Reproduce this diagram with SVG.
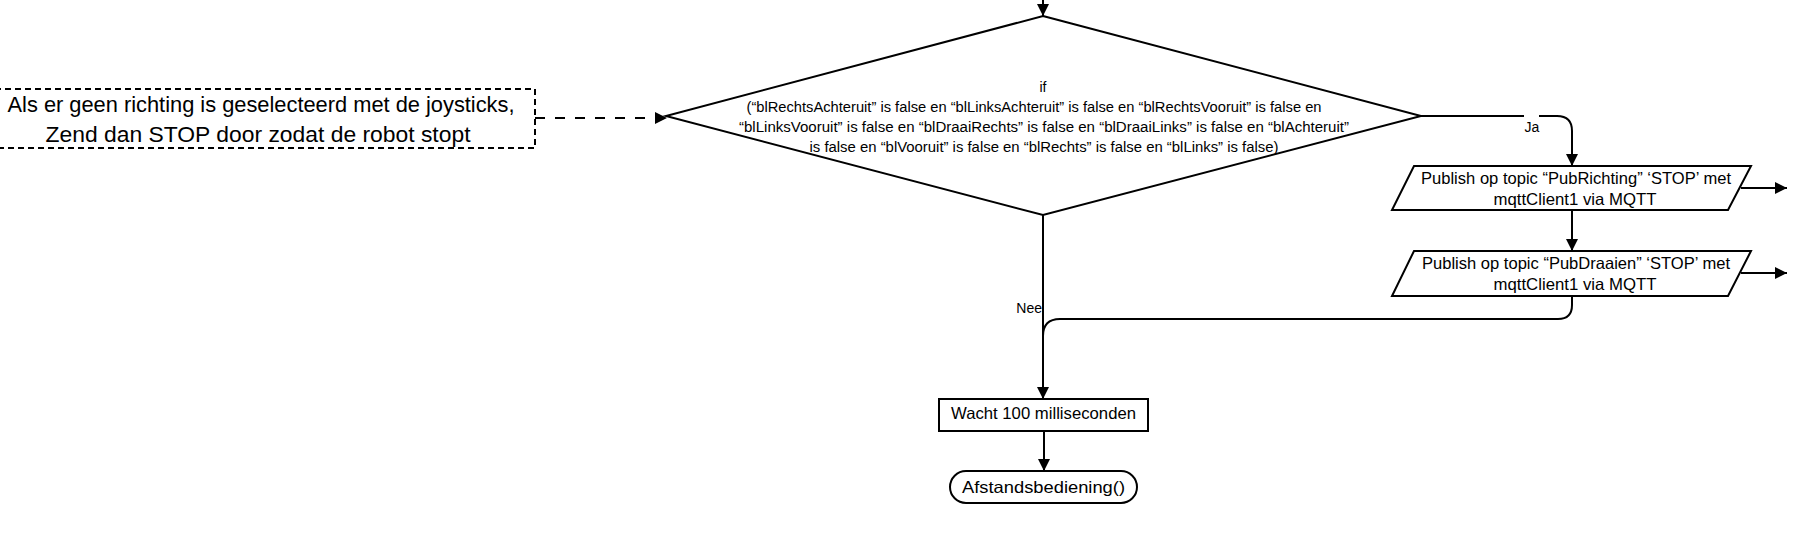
<svg xmlns="http://www.w3.org/2000/svg" width="1797" height="557" viewBox="0 0 1797 557">
<style>
  .shape { fill: #ffffff; stroke: #000000; stroke-width: 2; }
  .dashbox { fill: #ffffff; stroke: #000000; stroke-width: 2; stroke-dasharray: 6 4; }
  .conn { fill: none; stroke: #000000; stroke-width: 2; }
  .dashconn { fill: none; stroke: #000000; stroke-width: 2; stroke-dasharray: 10 10; }
  .t { font-family: "Liberation Sans", Arial, sans-serif; fill: #000000; text-anchor: middle; }
  .big { font-size: 22px; }
  .mid { font-size: 16.5px; }
  .small { font-size: 14px; }
</style>
<defs>
  <marker id="arrow" markerUnits="userSpaceOnUse" markerWidth="13" markerHeight="13" refX="12" refY="6" orient="auto">
    <path d="M0,0 L12,6 L0,12 z" fill="#000000"/>
  </marker>
</defs>
<rect width="1797" height="557" fill="#ffffff"/>

<g id="connectors">
  <line class="conn" x1="1043" y1="-2" x2="1043" y2="16" marker-end="url(#arrow)"/>
  <line class="dashconn" x1="535" y1="118" x2="667" y2="118" marker-end="url(#arrow)"/>
  <path class="conn" d="M1421,116 H1557 Q1572,116 1572,131 V166" marker-end="url(#arrow)"/>
  <line class="conn" x1="1572" y1="210" x2="1572" y2="251" marker-end="url(#arrow)"/>
  <line class="conn" x1="1741" y1="188" x2="1787" y2="188" marker-end="url(#arrow)"/>
  <line class="conn" x1="1741" y1="273" x2="1787" y2="273" marker-end="url(#arrow)"/>
  <path class="conn" d="M1572,296 V305 Q1572,319 1558,319 H1060 Q1043,319 1043,336"/>
  <line class="conn" x1="1043" y1="215" x2="1043" y2="399" marker-end="url(#arrow)"/>
  <line class="conn" x1="1044" y1="431" x2="1044" y2="471" marker-end="url(#arrow)"/>
  <rect x="1524" y="115" width="15" height="20" fill="#ffffff"/>
  <text class="t small" x="1532" y="132">Ja</text>
  <text class="t small" x="1042" y="313" style="text-anchor:end">Nee</text>
</g>

<g id="comment">
  <rect class="dashbox" x="-5" y="89" width="540" height="59"/>
  <text class="t big" x="261" y="112" textLength="507" lengthAdjust="spacingAndGlyphs">Als er geen richting is geselecteerd met de joysticks,</text>
  <text class="t big" x="258" y="142" textLength="425" lengthAdjust="spacingAndGlyphs">Zend dan STOP door zodat de robot stopt</text>
</g>

<g id="decision">
  <polygon class="shape" points="1043,16 1421,116 1043,215 666,116"/>
  <text class="t small" x="1043" y="92">if</text>
  <text class="t small" x="1034" y="112" textLength="575" lengthAdjust="spacingAndGlyphs">(“blRechtsAchteruit” is false en “blLinksAchteruit” is false en “blRechtsVooruit” is false en</text>
  <text class="t small" x="1044" y="132" textLength="610" lengthAdjust="spacingAndGlyphs">“blLinksVooruit” is false en “blDraaiRechts” is false en “blDraaiLinks” is false en “blAchteruit”</text>
  <text class="t small" x="1044" y="152" textLength="469" lengthAdjust="spacingAndGlyphs">is false en “blVooruit” is false en “blRechts” is false en “blLinks” is false)</text>
</g>

<g id="publish-richting">
  <polygon class="shape" points="1414,166 1751,166 1728,210 1392,210"/>
  <text class="t mid" x="1576" y="184" textLength="310" lengthAdjust="spacingAndGlyphs">Publish op topic “PubRichting” ‘STOP’ met</text>
  <text class="t mid" x="1575" y="205" textLength="163" lengthAdjust="spacingAndGlyphs">mqttClient1 via MQTT</text>
</g>

<g id="publish-draaien">
  <polygon class="shape" points="1414,251 1751,251 1728,296 1392,296"/>
  <text class="t mid" x="1576" y="269" textLength="308" lengthAdjust="spacingAndGlyphs">Publish op topic “PubDraaien” ‘STOP’ met</text>
  <text class="t mid" x="1575" y="290" textLength="163" lengthAdjust="spacingAndGlyphs">mqttClient1 via MQTT</text>
</g>

<g id="wacht">
  <rect class="shape" x="939" y="399" width="209" height="32"/>
  <text class="t mid" x="1043.5" y="419" textLength="185" lengthAdjust="spacingAndGlyphs">Wacht 100 milliseconden</text>
</g>

<g id="afstandsbediening">
  <rect class="shape" x="950" y="471" width="187" height="32" rx="16" ry="16"/>
  <text class="t mid" x="1043.5" y="493" textLength="163" lengthAdjust="spacingAndGlyphs">Afstandsbediening()</text>
</g>
</svg>
